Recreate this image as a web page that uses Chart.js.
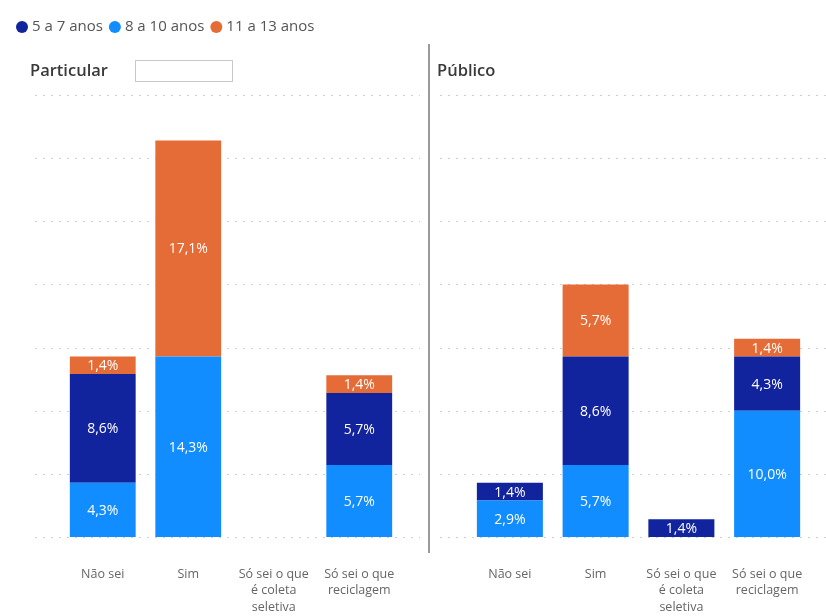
<!DOCTYPE html>
<html><head><meta charset="utf-8">
<script src="https://cdn.jsdelivr.net/npm/chart.js@4/dist/chart.umd.min.js"></script>
<style>
html,body{margin:0;padding:0;background:#fff;width:826px;height:616px;overflow:hidden;position:relative;font-family:'Open Sans',sans-serif}
#cl{position:absolute;left:0;top:0}
#cr{position:absolute;left:429px;top:0}
.title{position:absolute;top:58px;font-size:16.5px;font-weight:600;color:#3a3a3a;font-family:'Open Sans',sans-serif}
#sep{position:absolute;left:428px;top:44px;width:2px;height:509px;background:#9a9a9a}
#box{position:absolute;left:135px;top:60px;width:96px;height:20px;border:1px solid #c8c8c8}
</style></head><body>
<canvas id="cl" width="429" height="616"></canvas>
<canvas id="cr" width="397" height="616"></canvas>
<div class="title" style="left:30px">Particular</div>
<div id="box"></div>
<div class="title" style="left:437px">Público</div>
<div id="sep"></div>
<script>
const categories = [['Não sei'], ['Sim'], ['Só sei o que','é coleta','seletiva'], ['Só sei o que','reciclagem']];
const seriesNames = ['5 a 7 anos', '8 a 10 anos', '11 a 13 anos'];
const seriesColors = ['#12239E', '#118DFF', '#E66C37'];
const particular5a7  = [8.6, null, null, 5.7];
const particular8a10 = [4.3, 14.3, null, 5.7];
const particular11a13 = [1.4, 17.1, null, 1.4];
const publico5a7  = [1.4, 8.6, 1.4, 4.3];
const publico8a10 = [2.9, 5.7, null, 10.0];
const publico11a13 = [null, 5.7, null, 1.4];
const yMin = 0, yMax = 35, yStep = 5;

const FONT = "'Open Sans', sans-serif";

function fmt(v){ return v.toFixed(1).replace('.', ',') + '%'; }

const gridPlugin = {
  id: 'extGrid',
  beforeDatasetsDraw(chart, args, opts){
    const ctx = chart.ctx, y = chart.scales.y;
    ctx.save();
    ctx.strokeStyle = '#cfcfcf';
    ctx.lineWidth = 1;
    ctx.setLineDash([2, 6]);
    y.ticks.forEach(t => {
      const py = Math.round(y.getPixelForValue(t.value)) + 0.5;
      ctx.beginPath();
      ctx.moveTo(opts.x1, py);
      ctx.lineTo(opts.x2, py);
      ctx.stroke();
    });
    ctx.restore();
  }
};

const labelPlugin = {
  id: 'barLabels',
  afterDatasetsDraw(chart){
    const ctx = chart.ctx;
    ctx.save();
    ctx.fillStyle = '#ffffff';
    ctx.font = '14px ' + FONT;
    ctx.textAlign = 'center';
    ctx.textBaseline = 'middle';
    chart.data.datasets.forEach((ds, di) => {
      const meta = chart.getDatasetMeta(di);
      meta.data.forEach((el, i) => {
        const v = ds.data[i];
        if (v === null || v === undefined) return;
        ctx.fillText(fmt(v), el.x, (el.y + el.base) / 2 + 1);
      });
    });
    ctx.restore();
  }
};

const legendPlugin = {
  id: 'customLegend',
  afterDraw(chart, args, opts){
    if (!opts.show) return;
    const ctx = chart.ctx;
    ctx.save();
    ctx.font = '15px ' + FONT;
    ctx.textBaseline = 'middle';
    let x = 16;
    const y = 27;
    seriesNames.forEach((name, i) => {
      ctx.fillStyle = seriesColors[i];
      ctx.beginPath();
      ctx.arc(x + 6, y, 6, 0, Math.PI * 2);
      ctx.fill();
      ctx.fillStyle = '#555';
      ctx.fillText(name, x + 16, y);
      x += 16 + ctx.measureText(name).width + 6;
    });
    ctx.restore();
  }
};

function makeChart(id, d5, d8, d11, yWidth, padRight, gx1, gx2, showLegend){
  return new Chart(document.getElementById(id), {
    type: 'bar',
    data: {
      labels: categories,
      datasets: [
        { label: seriesNames[1], data: d8, backgroundColor: seriesColors[1] },
        { label: seriesNames[0], data: d5, backgroundColor: seriesColors[0] },
        { label: seriesNames[2], data: d11, backgroundColor: seriesColors[2] }
      ]
    },
    options: {
      responsive: false,
      animation: false,
      events: [],
      layout: { padding: { left: 0, right: padRight, top: 95, bottom: 0 } },
      datasets: { bar: { categoryPercentage: 1, barPercentage: 0.77 } },
      scales: {
        x: {
          stacked: true,
          grid: { display: false, drawTicks: false },
          border: { display: false },
          ticks: { color: '#666', font: { family: FONT, size: 12.5, lineHeight: 1.32 }, padding: 29, maxRotation: 0, autoSkip: false },
          afterFit(s){ s.height = 79; s.paddingLeft = 0; s.paddingRight = 0; }
        },
        y: {
          stacked: true,
          min: yMin, max: yMax,
          ticks: { display: false, stepSize: yStep },
          grid: { display: false },
          border: { display: false },
          afterFit(s){ s.width = yWidth; }
        }
      },
      plugins: {
        legend: { display: false },
        tooltip: { enabled: false },
        extGrid: { x1: gx1, x2: gx2 },
        customLegend: { show: showLegend }
      }
    },
    plugins: [gridPlugin, labelPlugin, legendPlugin]
  });
}

makeChart('cl', particular5a7, particular8a10, particular11a13, 60, 27, 35, 420, true);
makeChart('cr', publico5a7, publico8a10, publico11a13, 38, 16, 11, 397, false);
</script>
</body></html>
